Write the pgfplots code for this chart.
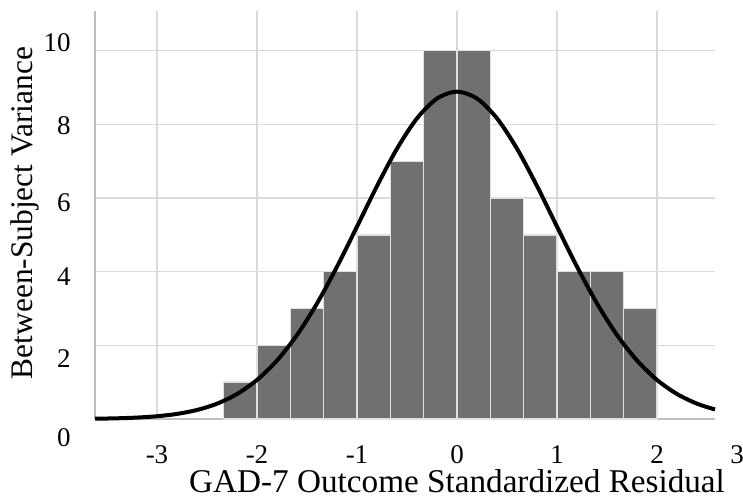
\documentclass[border=0pt]{standalone}
\usepackage{pgfplots}
\pgfplotsset{compat=1.18}
\usepackage{fontspec}
\setmainfont{Liberation Serif}
\definecolor{barfill}{HTML}{707070}
\definecolor{gridc}{HTML}{D9D9D9}
\definecolor{axisc}{HTML}{BFBFBF}
\begin{document}
\begin{tikzpicture}
\begin{axis}[
  scale only axis,
  width=310pt, height=204pt,
  xmin=-3.62, xmax=2.58, ymin=0, ymax=11.08,
  axis lines*=left,
  axis line style={draw=axisc, line width=1pt, -},
  grid=major,
  grid style={draw=gridc, line width=0.6pt},
  major tick length=0pt,
  xtick={-3,-2,-1,0,1,2},
  xticklabels={-3,-2,-1,0,1,2},
  ytick={0,2,4,6,8,10},
  yticklabels={\raisebox{-13.56pt}[0pt][0pt]{0},\raisebox{-11.06pt}[0pt][0pt]{2},\raisebox{-7.06pt}[0pt][0pt]{4},\raisebox{-6.56pt}[0pt][0pt]{6},\raisebox{-5.06pt}[0pt][0pt]{8},\raisebox{-0.21pt}[0pt][0pt]{10}},
  xticklabel style={font=\fontsize{13.5}{15}\selectfont, anchor=base, inner sep=0pt, yshift=-22pt},
  yticklabel style={font=\fontsize{13.5}{15}\selectfont, anchor=east, inner sep=0pt, xshift=-12pt},
  xlabel={GAD-7 Outcome Standardized Residual},
  ylabel={Between-Subject Variance},
  xlabel style={font=\fontsize{16.6}{19}\selectfont, at={(axis description cs:0.584,0)}, anchor=base, inner sep=0pt, yshift=-36.5pt},
  ylabel style={font=\fontsize{15.7}{18}\selectfont, at={(axis description cs:-0.1129,0.505)}, anchor=center, inner sep=0pt},
  clip=false,
]
\addplot[ybar interval, fill=barfill, draw=white!88!black, line width=0.7pt] coordinates {
(-2.3333,1) (-2,2) (-1.6667,3) (-1.3333,4) (-1,5) (-0.6667,7) (-0.3333,10)
(0,10) (0.3333,6) (0.6667,5) (1,4) (1.3333,4) (1.6667,3) (2,3)
};
\addplot[black, line width=2pt, smooth, mark=none] coordinates {
(-3.62,0.008) (-3.4,0.019) (-3.2,0.039) (-3.0,0.075) (-2.8,0.138) (-2.6,0.245)
(-2.4,0.416) (-2.2,0.679) (-2.0,1.061) (-1.8,1.589) (-1.6,2.281) (-1.4,3.137)
(-1.2,4.136) (-1.0,5.225) (-0.8,6.327) (-0.6,7.342) (-0.4,8.165) (-0.2,8.703)
(0,8.89) (0.2,8.703) (0.4,8.165) (0.6,7.342) (0.8,6.327) (1.0,5.225)
(1.2,4.136) (1.4,3.137) (1.6,2.281) (1.8,1.589) (2.0,1.061) (2.2,0.679)
(2.4,0.416) (2.58,0.259)
};
\node[font=\fontsize{13.5}{15}\selectfont, anchor=base, inner sep=0pt, xshift=11pt, yshift=-22pt] at (rel axis cs:1,0) {3};
\coordinate (O) at (rel axis cs:0,0);
\end{axis}
\pgfresetboundingbox
\path ([shift={(-47.5pt,-40pt)}]O) rectangle ([shift={(324pt,209.5pt)}]O);
\end{tikzpicture}
\end{document}
